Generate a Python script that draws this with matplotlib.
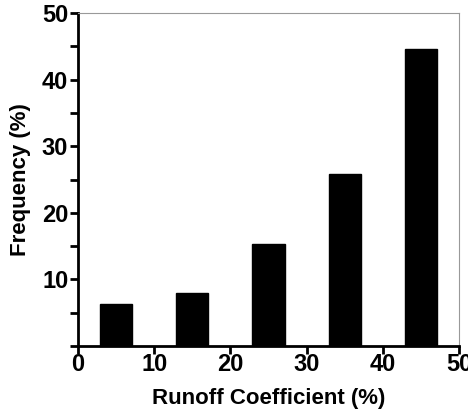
import matplotlib
matplotlib.use("Agg")
import matplotlib.pyplot as plt
from matplotlib.ticker import MultipleLocator

# runoff coefficient classes (bin centres) and frequency
runoff = [5, 15, 25, 35, 45]
frequency = [6.3, 7.9, 15.3, 25.9, 44.6]

plt.rcParams['font.family'] = ['Liberation Sans', 'DejaVu Sans']
plt.rcParams['font.weight'] = 'bold'

fig = plt.figure(figsize=(4.68, 4.17), dpi=100)
ax = fig.add_axes([78/468, 1 - 346/417, (459-78)/468, (346-13)/417])

ax.bar(runoff, frequency, width=4.2, color='black', edgecolor='black')

ax.set_xlim(0, 50)
ax.set_ylim(0, 50)
ax.xaxis.set_major_locator(MultipleLocator(10))
ax.set_yticks([10, 20, 30, 40, 50])
ax.yaxis.set_minor_locator(MultipleLocator(5))

for s in ['left', 'bottom']:
    ax.spines[s].set_linewidth(2)
    ax.spines[s].set_color('black')
for s in ['top', 'right']:
    ax.spines[s].set_linewidth(0.8)
    ax.spines[s].set_color('#999999')

ax.tick_params(which='major', direction='out', length=6, width=2, labelsize=17, pad=1)
ax.tick_params(axis='x', which='major', pad=-1)
ax.tick_params(which='minor', direction='out', length=6, width=2)
ax.tick_params(axis='x', which='minor', length=0)

ax.set_xlabel('Runoff Coefficient (%)', fontsize=16, fontweight='bold', labelpad=9)
ax.set_ylabel('Frequency (%)', fontsize=16, fontweight='bold', labelpad=8)

fig.savefig('out.png', dpi=100)
